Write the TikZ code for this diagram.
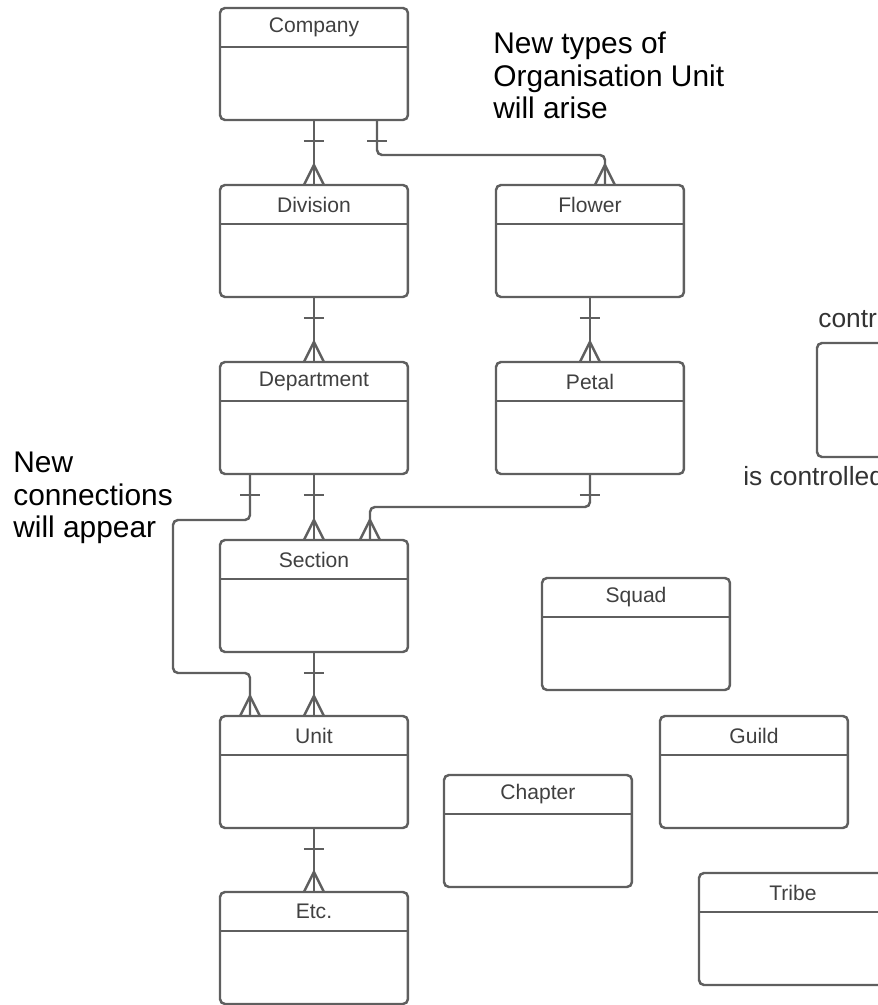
\documentclass[tikz,border=0pt]{standalone}
\usepackage{fontspec}
\setmainfont{Liberation Sans}
\usetikzlibrary{calc}
\definecolor{linegray}{HTML}{5F5F5F}
\definecolor{titlegray}{HTML}{404040}
\definecolor{notegray}{HTML}{333333}
\tikzset{
    entity/.style={rectangle, draw=linegray, line width=1.4pt, rounded corners=0.1cm, minimum width=3.76cm, minimum height=2.24cm, inner sep=0pt, outer sep=0pt, anchor=north west},
    boxtitle/.style={text=titlegray, font=\fontsize{12}{14}\selectfont},
    conn/.style={draw=linegray, line width=1.4pt, rounded corners=0.1cm},
    notetext/.style={align=left, anchor=north west, inner sep=0pt, font=\fontsize{17}{18.5}\selectfont}
}
% entity box with a title strip
\newcommand{\erbox}[4]{%
    \node[entity] (#1) at (#2,#3) {};
    \draw[conn] ($(#1.north west)+(0,39)$) -- ($(#1.north east)+(0,39)$);
    \node[boxtitle] (#1-title) at ($(#1.north)+(0,19.5)$) {#4};
}
% many end and one end
\newcommand{\crowfoot}[1]{\draw[conn, sharp corners] ($(#1)+(-10,0)$) -- ($(#1)+(0,-20)$) -- ($(#1)+(10,0)$);}
\newcommand{\onebar}[1]{\draw[conn, sharp corners] ($(#1)+(-10,21)$) -- ($(#1)+(10,21)$);}

\begin{document}
\begin{tikzpicture}[x=0.02cm, y=-0.02cm]
    \useasboundingbox (0,0) rectangle (878,1005);
    \clip (0,0) rectangle (878,1005);

    \erbox{company}{220}{8}{Company}
    \erbox{division}{220}{185}{Division}
    \erbox{flower}{496}{185}{Flower}
    \erbox{department}{220}{362}{Department}
    \erbox{petal}{496}{362}{Petal}
    \erbox{section}{220}{540}{Section}
    \erbox{unit}{220}{716}{Unit}
    \erbox{etc}{220}{892}{Etc.}
    \erbox{squad}{542}{578}{Squad}
    \erbox{guild}{660}{716}{Guild}
    \erbox{chapter}{444}{775}{Chapter}
    \erbox{tribe}{699}{873}{Tribe}
    \node[entity, minimum height=2.28cm] (control) at (817,343) {};

    % straight one-to-many links
    \foreach \a/\b in {company/division, division/department, department/section, section/unit, unit/etc, flower/petal} {
        \draw[conn] (\a.south) -- (\b.north);
        \onebar{\a.south}
        \crowfoot{\b.north}
    }

    % routed links
    \coordinate (company-out) at ($(company.south west)+(157,0)$);
    \coordinate (flower-in) at ($(flower.north)+(15,0)$);
    \draw[conn] (company-out) -- ++(0,35) -| (flower-in);
    \onebar{company-out}
    \crowfoot{flower-in}

    \coordinate (department-out) at ($(department.south west)+(30,0)$);
    \coordinate (unit-in) at ($(unit.north west)+(30,0)$);
    \draw[conn] (department-out) -- ++(0,46) -- ++(-77,0) -- ++(0,153) -| (unit-in);
    \onebar{department-out}
    \crowfoot{unit-in}

    \coordinate (section-in) at ($(section.north)+(56,0)$);
    \draw[conn] (petal.south) -- ++(0,33) -| (section-in);
    \onebar{petal.south}
    \crowfoot{section-in}

    % notes
    \node[notetext] (types-note) at (493,32) {New types of\\Organisation Unit\\will arise};
    \node[notetext] (links-note) at (13,452) {New\\connections\\will appear};
    \node[anchor=base west, inner sep=0pt, text=notegray, font=\fontsize{15}{17}\selectfont] (control-top) at (818,327) {contr};
    \node[anchor=base west, inner sep=0pt, text=notegray, font=\fontsize{15}{17}\selectfont] (control-bottom) at (743,485) {is controlled};
\end{tikzpicture}
\end{document}
